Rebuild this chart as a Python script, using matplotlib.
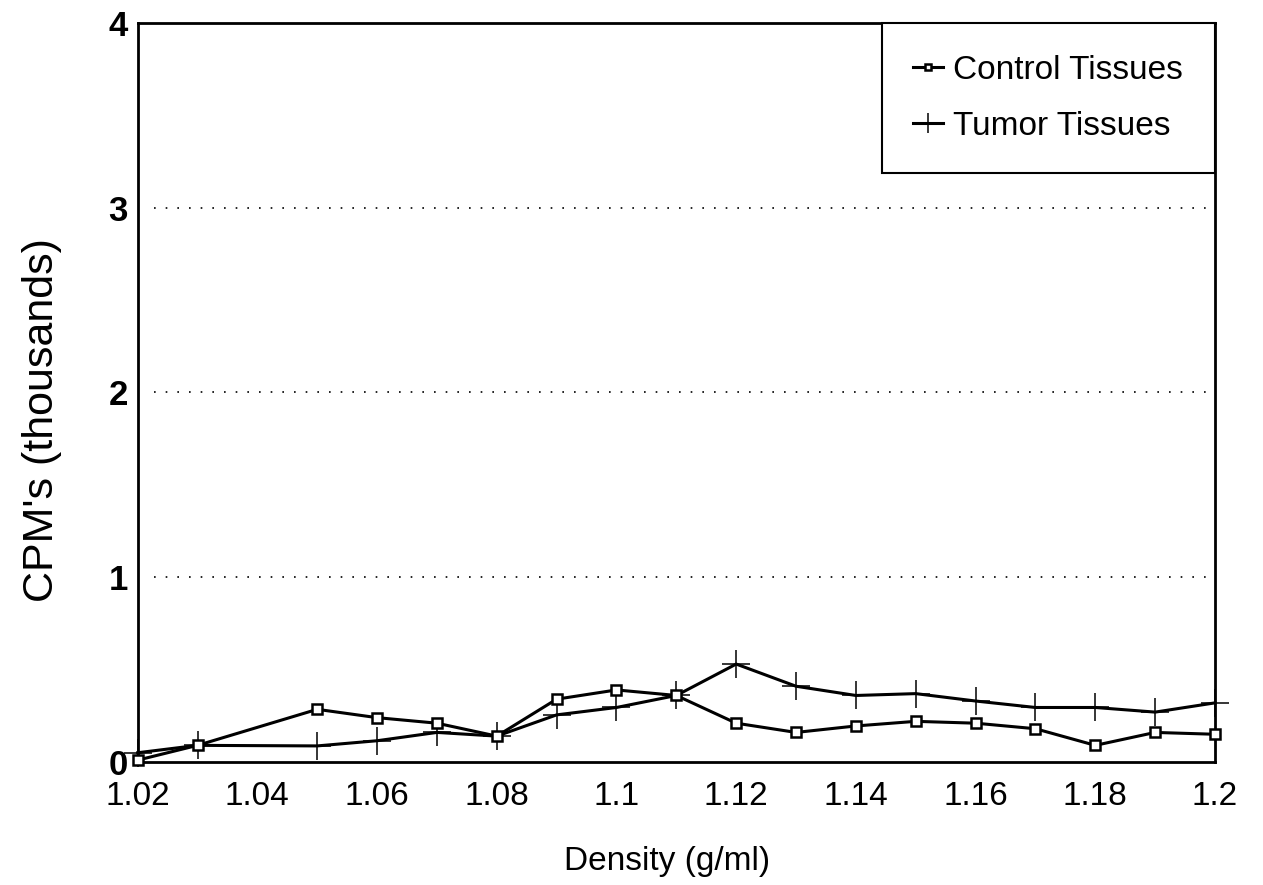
import matplotlib.pyplot as plt

plt.rcParams['font.family'] = ['Liberation Sans', 'DejaVu Sans']

density = [1.02, 1.03, 1.05, 1.06, 1.07, 1.08, 1.09, 1.10, 1.11, 1.12,
           1.13, 1.14, 1.15, 1.16, 1.17, 1.18, 1.19, 1.20]
control = [0.01, 0.09, 0.285, 0.24, 0.21, 0.14, 0.34, 0.39, 0.36, 0.21,
           0.16, 0.195, 0.22, 0.21, 0.18, 0.09, 0.16, 0.15]
tumor = [0.05, 0.09, 0.087, 0.115, 0.16, 0.14, 0.255, 0.295, 0.36, 0.53,
         0.41, 0.36, 0.37, 0.33, 0.295, 0.295, 0.27, 0.32]
xticks = [1.02, 1.04, 1.06, 1.08, 1.1, 1.12, 1.14, 1.16, 1.18, 1.2]
xlabels = ['1.02', '1.04', '1.06', '1.08', '1.1', '1.12', '1.14', '1.16', '1.18', '1.2']

fig = plt.figure(figsize=(12.63, 8.85), dpi=100)
ax = fig.add_axes([0.109, 0.139, 0.853, 0.835])

ax.plot(density, control, color='black', lw=2.2, marker='s', ms=7,
        mfc='white', mec='black', mew=1.8, clip_on=False, zorder=4,
        label='Control Tissues')
ax.plot(density, tumor, color='black', lw=2.2, marker='+', ms=20,
        mew=1.1, clip_on=False, zorder=3, label='Tumor Tissues')

ax.set_xlim(1.02, 1.2)
ax.set_ylim(0, 4)
ax.set_yticks([0, 1, 2, 3, 4])
ax.set_yticklabels(['0', '1', '2', '3', '4'], fontsize=25, fontweight='bold')
ax.set_xticks(xticks)
ax.set_xticklabels(xlabels, fontsize=24)
ax.tick_params(axis='x', length=0, pad=14)
ax.tick_params(axis='y', length=0, pad=7)

# dotted gridlines
for y in [1, 2, 3]:
    ax.axhline(y, xmin=0.015, color='black', lw=1.2, ls=(0, (1, 6)))

for s in ax.spines.values():
    s.set_linewidth(2)

fig.text(0.528, 0.027, 'Density (g/ml)', fontsize=24, ha='center', va='center')
fig.text(0.0335, 0.525, "CPM's (thousands)", fontsize=31, rotation=90,
         ha='center', va='center')

leg = ax.legend(loc='upper right', fontsize=24, frameon=True, fancybox=False,
                borderaxespad=0, handlelength=0.9, handletextpad=0.3,
                borderpad=0.95, labelspacing=0.75, markerscale=0.7)
leg.get_frame().set_edgecolor('black')
leg.get_frame().set_linewidth(1.5)
leg.get_frame().set_alpha(1)

fig.savefig('out.png', dpi=100)
